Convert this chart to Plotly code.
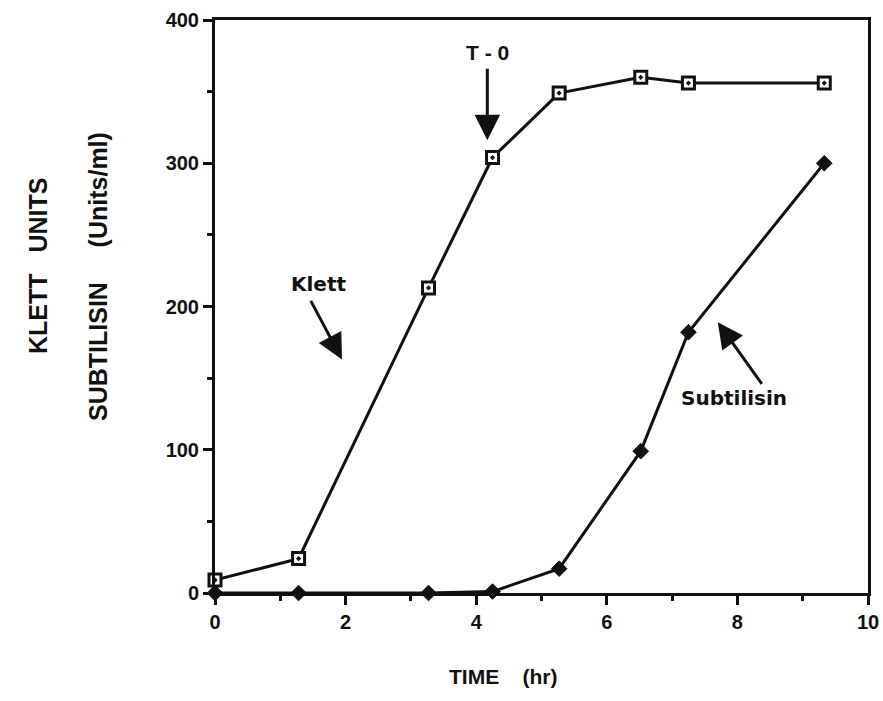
import plotly.graph_objects as go

# Sampling times (hr)
time_hr = [0.0, 1.28, 3.27, 4.25, 5.27, 6.52, 7.25, 9.33]
# Culture density (Klett units)
klett = [9, 24, 213, 304, 349, 360, 356, 356]
# Subtilisin activity (units/ml)
subtilisin = [0, 0, 0, 1, 17, 99, 182, 300]

x_ticks = [0, 2, 4, 6, 8, 10]
y_ticks = [0, 100, 200, 300, 400]

SANS = "Liberation Sans, Arial, sans-serif"
WIDE = "DejaVu Sans"
INK = "#111111"

# figure geometry (px)
W, H = 883, 701
PLOT_L, PLOT_R, PLOT_T, PLOT_B = 215, 868, 20, 593


def px_to_paper(px, py):
    return ((px - PLOT_L) / (PLOT_R - PLOT_L), (PLOT_B - py) / (PLOT_B - PLOT_T))


fig = go.Figure()

fig.add_trace(go.Scatter(
    x=time_hr, y=klett, mode="lines+markers", name="Klett",
    line=dict(color=INK, width=3),
    marker=dict(symbol="square-dot", size=12, color="white",
                line=dict(color=INK, width=3)),
    cliponaxis=False,
))
fig.add_trace(go.Scatter(
    x=time_hr, y=subtilisin, mode="lines+markers", name="Subtilisin",
    line=dict(color=INK, width=3),
    marker=dict(symbol="diamond", size=12, color=INK,
                line=dict(color=INK, width=1)),
    cliponaxis=False,
))

label_font = dict(family=WIDE, size=20, color=INK, weight="bold")
arrow = dict(showarrow=True, arrowhead=2, arrowsize=1.7, arrowwidth=3,
             arrowcolor=INK, axref="x", ayref="y", xref="x", yref="y", text="")

annotations = [
    # T-0 marker
    dict(x=4.17, y=316, ax=4.17, ay=367, **arrow),
    dict(x=4.18, y=377, xref="x", yref="y", text="T - 0", showarrow=False,
         font=dict(family=SANS, size=21, color=INK, weight="bold")),
    # Klett label
    dict(x=1.945, y=163, ax=1.455, ay=205, **arrow),
    dict(x=1.58, y=216, xref="x", yref="y", text="Klett",
         showarrow=False, font=label_font),
    # Subtilisin label
    dict(x=7.70, y=189, ax=8.39, ay=145, **arrow),
    dict(x=7.95, y=136, xref="x", yref="y", text="Subtilisin",
         showarrow=False, font=label_font),
]

tx, ty = px_to_paper(503, 690)
annotations.append(dict(x=tx, y=ty, xref="paper", yref="paper",
                        text="TIME    (hr)", showarrow=False,
                        font=dict(family=SANS, size=21, color=INK, weight="bold")))

title_font = dict(family=SANS, size=25, color=INK, weight="bold")
kx, ky = px_to_paper(22, 266)
annotations.append(dict(x=kx, y=ky, xref="paper", yref="paper",
                        text="KLETT   UNITS", textangle=-90, showarrow=False,
                        font=title_font))
sx, sy = px_to_paper(82, 277)
annotations.append(dict(x=sx, y=sy, xref="paper", yref="paper",
                        text="SUBTILISIN     (Units/ml)", textangle=-90,
                        showarrow=False, font=title_font))

tick_font = dict(family=SANS, size=20, color=INK, weight="bold")

fig.update_layout(
    width=W, height=H,
    margin=dict(l=PLOT_L, r=W - PLOT_R, t=PLOT_T, b=H - PLOT_B),
    paper_bgcolor="white", plot_bgcolor="white",
    showlegend=False,
    annotations=annotations,
    xaxis=dict(
        range=[0, 10], tickvals=x_ticks, ticktext=[str(v) for v in x_ticks],
        automargin=False,
        showgrid=False, zeroline=False,
        showline=True, linecolor=INK, linewidth=3, mirror=True,
        ticks="outside", ticklen=9, tickwidth=3, tickcolor=INK,
        minor=dict(tickvals=[1, 3, 5, 7, 9], ticks="outside", ticklen=5,
                   tickwidth=3, tickcolor=INK, showgrid=False),
        tickfont=tick_font,
    ),
    yaxis=dict(
        range=[0, 400], tickvals=y_ticks, ticktext=[str(v) for v in y_ticks],
        automargin=False,
        showgrid=False, zeroline=False,
        showline=True, linecolor=INK, linewidth=3, mirror=True,
        ticks="outside", ticklen=9, tickwidth=3, tickcolor=INK,
        minor=dict(tickvals=[50, 150, 250, 350], ticks="outside", ticklen=5,
                   tickwidth=3, tickcolor=INK, showgrid=False),
        tickfont=tick_font,
    ),
)

fig.write_html("out.html")
